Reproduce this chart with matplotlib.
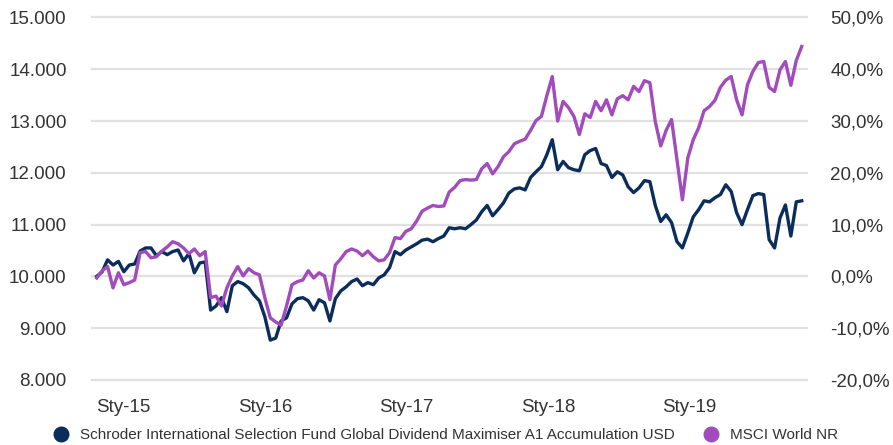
import numpy as np
import pandas as pd
import matplotlib
matplotlib.use('Agg')
import matplotlib.pyplot as plt
from matplotlib.lines import Line2D

# fund growth of 10.000 (left axis) and index performance in % (right axis), two-weekly
dates = pd.date_range('2014-10-24', periods=131, freq='14D')

fund = [10000, 10090, 10320, 10220, 10290, 10090, 10220, 10240, 10490, 10550,
        10550, 10400, 10480, 10420, 10480, 10510, 10300, 10440, 10070, 10260,
        10280, 9350, 9430, 9590, 9320, 9820, 9900, 9860, 9780, 9640,
        9530, 9220, 8770, 8810, 9140, 9200, 9470, 9570, 9590, 9530,
        9350, 9550, 9490, 9140, 9570, 9720, 9800, 9900, 9950, 9820,
        9880, 9840, 9970, 10030, 10170, 10480, 10420, 10510, 10570, 10630,
        10700, 10720, 10670, 10730, 10780, 10940, 10920, 10940, 10920, 11000,
        11090, 11250, 11370, 11170, 11290, 11420, 11610, 11690, 11710, 11670,
        11910, 12020, 12120, 12350, 12640, 12060, 12220, 12100, 12060, 12040,
        12350, 12430, 12470, 12180, 12140, 11910, 12020, 11960, 11730, 11620,
        11710, 11850, 11830, 11370, 11060, 11190, 11040, 10670, 10550, 10840,
        11150, 11290, 11460, 11440, 11520, 11580, 11770, 11640, 11230, 11000,
        11290, 11560, 11600, 11580, 10710, 10550, 11130, 11380, 10780, 11440,
        11460]

msci = [-0.3, 1.1, 1.9, -2.2, 0.7, -1.6, -1.2, -0.7, 4.6, 4.8,
        3.6, 3.8, 4.9, 5.7, 6.7, 6.3, 5.5, 4.4, 5.3, 4.0,
        4.8, -4.1, -3.8, -5.7, -2.2, 0.1, 1.9, 0.1, 1.5, 0.7,
        0.3, -4.1, -8.0, -8.8, -9.4, -5.7, -1.6, -1.0, -0.7, 1.1,
        -0.3, 0.7, 0.1, -4.5, 2.2, 3.4, 4.8, 5.3, 4.9, 4.0,
        4.9, 3.8, 3.0, 3.2, 4.6, 7.5, 7.3, 8.7, 9.2, 10.7,
        12.6, 13.2, 13.7, 13.5, 13.6, 16.3, 17.2, 18.5, 18.7, 18.6,
        18.7, 20.8, 21.8, 19.8, 21.2, 23.1, 24.1, 25.6, 26.1, 26.5,
        28.2, 30.1, 30.9, 34.9, 38.6, 30.0, 33.8, 32.6, 30.9, 27.4,
        31.4, 30.7, 33.8, 32.0, 34.1, 31.2, 34.3, 34.9, 34.1, 36.7,
        35.7, 37.8, 37.4, 29.9, 25.2, 28.2, 30.3, 22.5, 14.8, 22.9,
        26.4, 28.7, 32.0, 32.8, 34.0, 36.5, 37.9, 38.6, 34.1, 31.2,
        37.0, 39.6, 41.3, 41.5, 36.5, 35.7, 39.9, 41.5, 36.9, 41.7,
        44.4]

left_ticks = [8000, 9000, 10000, 11000, 12000, 13000, 14000, 15000]
left_labels = ['8.000', '9.000', '10.000', '11.000', '12.000', '13.000', '14.000', '15.000']
right_ticks = [-20, -10, 0, 10, 20, 30, 40, 50]
right_labels = ['-20,0%', '-10,0%', '0,0%', '10,0%', '20,0%', '30,0%', '40,0%', '50,0%']
year_ticks = pd.to_datetime(['2015-01-01', '2016-01-01', '2017-01-01', '2018-01-01', '2019-01-01'])
year_labels = ['Sty-15', 'Sty-16', 'Sty-17', 'Sty-18', 'Sty-19']
names = ['Schroder International Selection Fund Global Dividend Maximiser A1 Accumulation USD',
         'MSCI World NR']

navy = '#0b2d5b'
purple = '#a24bbd'
txt = '#333333'

plt.rcParams['font.family'] = ['Liberation Sans', 'DejaVu Sans']

fig = plt.figure(figsize=(8.93, 4.45), dpi=100)
ax = fig.add_axes([0.1027, 0.1461, 0.8007, 0.8146])
ax2 = ax.twinx()

ax.plot(dates, fund, color=navy, lw=2.4, solid_joinstyle='round', zorder=3)
ax2.plot(dates, msci, color=purple, lw=2.4, solid_joinstyle='round', zorder=3)

ax.set_ylim(8000, 15000)
ax2.set_ylim(-20, 50)
ax.set_xlim(dates[0] - pd.Timedelta(days=13), dates[-1] + pd.Timedelta(days=13))

ax.set_yticks(left_ticks)
ax.set_yticklabels(left_labels)
ax2.set_yticks(right_ticks)
ax2.set_yticklabels(right_labels)
ax.set_xticks(year_ticks)
ax.set_xticklabels(year_labels)

ax.tick_params(axis='y', length=0, pad=18, labelsize=13.5, labelcolor=txt)
ax2.tick_params(axis='y', length=0, pad=17, labelsize=13.5, labelcolor=txt)
ax.tick_params(axis='x', length=0, pad=13.5, labelsize=13.5, labelcolor=txt)

ax.grid(axis='y', color='#e1e1e1', lw=1.6)
ax.grid(axis='x', visible=False)
for gl in ax.get_ygridlines():
    gl.set_clip_on(False)
ax.set_axisbelow(True)

for a in (ax, ax2):
    for s in a.spines.values():
        s.set_visible(False)

handles = [Line2D([], [], ls='', marker='o', ms=10.5, color=navy),
           Line2D([], [], ls='', marker='o', ms=10.5, color=purple)]
fig.legend(handles, names, loc='center', bbox_to_anchor=(0.499, 0.022), ncol=2,
           frameon=False, fontsize=11, labelcolor=txt, handletextpad=0.75,
           columnspacing=1.9, handlelength=1.0, borderaxespad=0)

fig.savefig('out.png', dpi=100)
